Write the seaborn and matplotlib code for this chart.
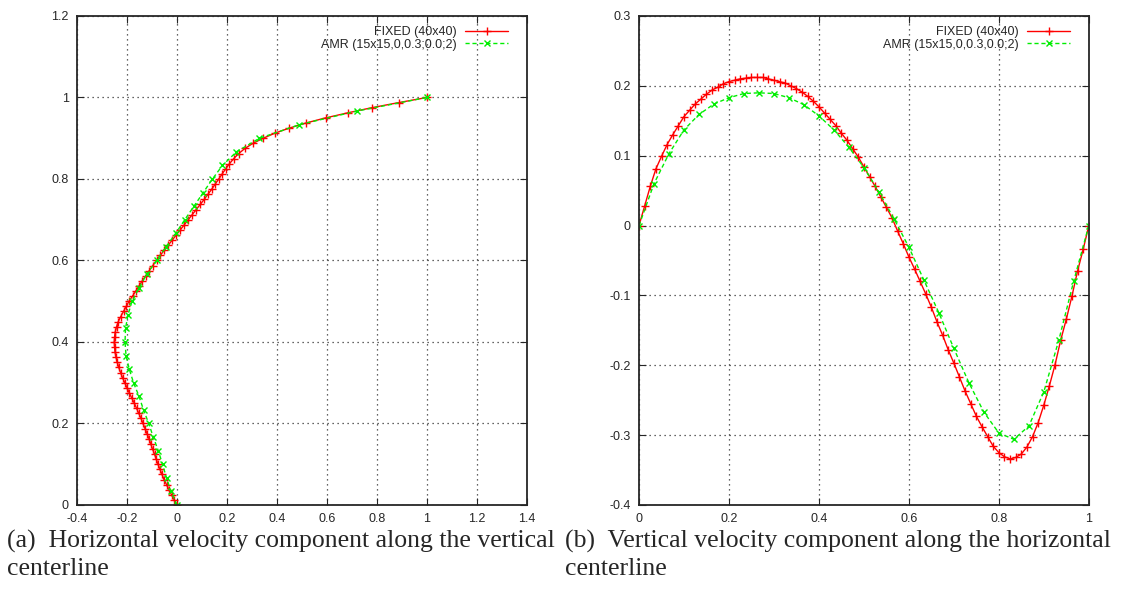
# -*- coding: utf-8 -*-

### Cavity centerline velocities: fixed grid vs AMR ###

import numpy as np
import pandas as pd
import matplotlib
matplotlib.use("Agg")
import matplotlib.pyplot as plt
import seaborn as sns

## Data ##

# (a) u along vertical centerline, fixed grid sampled every 1/80 in y
y_fixed = np.linspace(0, 1, 81)
u_fixed = [0.000, -0.011, -0.022, -0.032, -0.042, -0.052, -0.060, -0.068, -0.076, -0.083,
           -0.090, -0.098, -0.105, -0.112, -0.120, -0.128, -0.136, -0.144, -0.153, -0.162,
           -0.171, -0.181, -0.191, -0.200, -0.209, -0.218, -0.226, -0.233, -0.239, -0.244,
           -0.248, -0.250, -0.251, -0.250, -0.247, -0.242, -0.235, -0.225, -0.214, -0.203,
           -0.192, -0.178, -0.165, -0.152, -0.139, -0.125, -0.111, -0.097, -0.082, -0.067,
           -0.051, -0.035, -0.019, -0.003, 0.013, 0.029, 0.045, 0.061, 0.077, 0.093,
           0.109, 0.124, 0.139, 0.153, 0.167, 0.181, 0.195, 0.210, 0.227, 0.247,
           0.272, 0.304, 0.345, 0.392, 0.450, 0.517, 0.595, 0.685, 0.780, 0.888, 1.000]

# AMR sampled every 1/30
y_amr = np.linspace(0, 1, 31)
u_amr = [0.000, -0.024, -0.042, -0.058, -0.075, -0.095, -0.113, -0.134, -0.152, -0.174,
         -0.191, -0.204, -0.208, -0.206, -0.196, -0.180, -0.151, -0.121, -0.082, -0.044,
         -0.005, 0.031, 0.068, 0.105, 0.142, 0.182, 0.238, 0.330, 0.490, 0.720, 1.000]

# (b) v along horizontal centerline
x_fixed = np.linspace(0, 1, 81)
v_fixed = [0.000, 0.028, 0.056, 0.081, 0.099, 0.116, 0.130, 0.143, 0.156, 0.165,
           0.174, 0.181, 0.188, 0.194, 0.198, 0.203, 0.206, 0.208, 0.210, 0.211,
           0.212, 0.212, 0.212, 0.210, 0.208, 0.206, 0.204, 0.200, 0.196, 0.191,
           0.185, 0.178, 0.170, 0.161, 0.152, 0.143, 0.132, 0.122, 0.110, 0.098,
           0.084, 0.070, 0.056, 0.041, 0.026, 0.011, -0.008, -0.026, -0.045, -0.062,
           -0.080, -0.098, -0.117, -0.138, -0.157, -0.178, -0.197, -0.217, -0.237, -0.255,
           -0.273, -0.288, -0.302, -0.316, -0.325, -0.331, -0.334, -0.332, -0.327, -0.317,
           -0.302, -0.282, -0.257, -0.229, -0.199, -0.164, -0.134, -0.101, -0.065, -0.034, 0.000]

x_amr = np.linspace(0, 1, 31)
v_amr = [0.000, 0.060, 0.103, 0.137, 0.159, 0.174, 0.183, 0.189, 0.190, 0.189,
         0.183, 0.173, 0.157, 0.137, 0.112, 0.083, 0.048, 0.010, -0.031, -0.078,
         -0.125, -0.176, -0.225, -0.267, -0.297, -0.306, -0.287, -0.238, -0.164, -0.079, 0.000]

label_fixed = "FIXED (40x40)"
label_amr_a = "AMR (15x15,0,0.3;0.0;2)"
label_amr_b = "AMR (15x15,0,0.3,0.0;2)"

cap_a = "(a)  Horizontal velocity component along the vertical\ncenterline"
cap_b = "(b)  Vertical velocity component along the horizontal\ncenterline"

RED = "#ff0000"
GREEN = "#00ee00"

## Styles ##
sns.set_style("ticks")
plt.rcParams['font.family'] = ['Liberation Sans', 'DejaVu Sans']
plt.rcParams['axes.unicode_minus'] = False
plt.rcParams['font.size'] = 9

fig = plt.figure(figsize=(11.33, 5.92), dpi=100)
ax1 = fig.add_axes([0.068, 0.147, 0.397, 0.826])
ax2 = fig.add_axes([0.564, 0.147, 0.397, 0.826])

def draw(ax, xa, ya, xb, yb, lab_b):
    df_a = pd.DataFrame({"x": xa, "y": ya})
    df_b = pd.DataFrame({"x": xb, "y": yb})
    sns.lineplot(data=df_a, x="x", y="y", sort=False, estimator=None, ax=ax,
                 color=RED, lw=1, marker="+", markersize=6, mew=1, mec=RED,
                 label=label_fixed)
    sns.lineplot(data=df_b, x="x", y="y", sort=False, estimator=None, ax=ax,
                 color=GREEN, lw=1, linestyle=(0, (3, 2)), marker="x",
                 markersize=5, mew=1, mec=GREEN, label=lab_b)
    ax.set_xlabel("")
    ax.set_ylabel("")
    ax.grid(True, linestyle=(0, (1, 3)), color="0.2", lw=0.9)
    ax.tick_params(direction="in", top=True, right=True, length=5, labelsize=9, pad=6)
    for s in ax.spines.values():
        s.set_linewidth(1.3)
    ax.legend(loc="upper right", bbox_to_anchor=(0.98, 1.0), frameon=False,
              markerfirst=False, fontsize=9, handlelength=3.4, labelspacing=0.05,
              borderaxespad=0.4, handletextpad=0.7)

draw(ax1, u_fixed, y_fixed, u_amr, y_amr, label_amr_a)
ax1.set_xlim(-0.4, 1.4)
ax1.set_ylim(0, 1.2)
ax1.set_xticks(np.arange(-0.4, 1.41, 0.2))
ax1.set_yticks(np.arange(0, 1.21, 0.2))

draw(ax2, x_fixed, v_fixed, x_amr, v_amr, label_amr_b)
ax2.set_xlim(0, 1)
ax2.set_ylim(-0.4, 0.3)
ax2.set_xticks(np.arange(0, 1.01, 0.2))
ax2.set_yticks(np.arange(-0.4, 0.31, 0.1))

fmt = matplotlib.ticker.FuncFormatter(lambda v, p: f"{round(v, 2) + 0.0:g}")
for ax in (ax1, ax2):
    ax.xaxis.set_major_formatter(fmt)
    ax.yaxis.set_major_formatter(fmt)

fig.text(0.006, 0.0625, cap_a, family=['Liberation Serif'], fontsize=18.5,
         va="center", linespacing=1.3)
fig.text(0.499, 0.0625, cap_b, family=['Liberation Serif'], fontsize=18.5,
         va="center", linespacing=1.3)

plt.savefig("out.png", dpi=100)
